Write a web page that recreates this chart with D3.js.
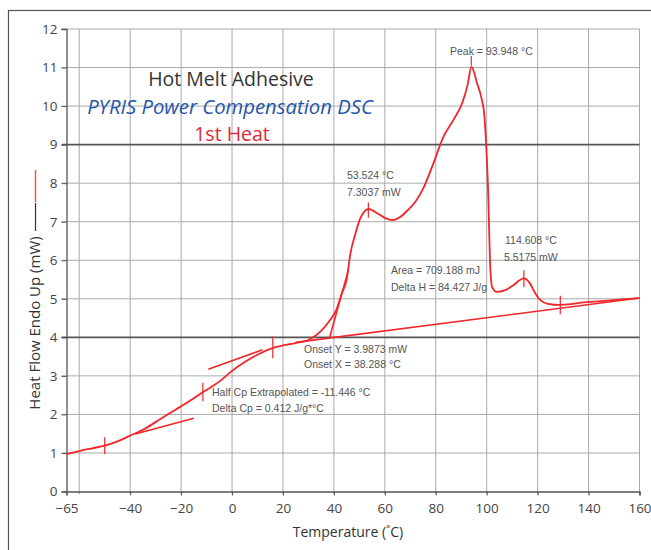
<!DOCTYPE html>
<html><head><meta charset="utf-8">
<script src="https://cdn.jsdelivr.net/npm/d3@7"></script>
<style>body{margin:0;background:#fff}svg{display:block}</style>
</head><body><svg id="c" width="651" height="550"></svg>
<script>
// ---- data ----
const temps = [-65,-60,-55,-50,-45,-40,-35,-30,-25,-20,-15,-11.4,-5,0,5,10,15,20,25,30,35,38.5,41,43,45,46.5,48.5,50.3,52,53.5,55,57,60,63,66,69,72,75,79,83,87,90.5,92.5,94,96.2,98.1,99,99.7,100.5,101.4,102.1,104,107,110,114.6,117,119,121,124,128.9,133,137,145,152,160];
const heatFlow = [0.97,1.05,1.12,1.19,1.30,1.45,1.60,1.80,2.01,2.21,2.42,2.58,2.85,3.13,3.36,3.55,3.70,3.79,3.85,3.93,4.17,4.45,4.72,5.12,5.50,6.18,6.70,7.08,7.27,7.33,7.30,7.22,7.10,7.04,7.12,7.30,7.52,7.85,8.50,9.20,9.65,10.10,10.55,11.02,10.60,10.16,9.81,9.12,7.91,5.83,5.31,5.18,5.22,5.33,5.53,5.40,5.15,4.97,4.87,4.84,4.86,4.90,4.94,4.98,5.02];
const baselineT = [25,160], baselineMW = [3.87,5.02];
const onsetTanT = [38.3,45.7], onsetTanMW = [3.99,5.75];
const lowTanT = [-38,-15], lowTanMW = [1.49,1.90];
const upTanT = [-9.3,12], upTanMW = [3.17,3.68];
const markerT = [-50,-11.446,16,53.524,114.608,128.9];
const markerMW = [1.19,2.58,3.74,7.30,5.52,4.84];
const markerLen = [0.22,0.24,0.28,0.2,0.22,0.24];
const xTicks = [-65,-40,-20,0,20,40,60,80,100,120,140,160];
const xGrid = [-60,-40,-20,0,20,40,60,80,100,120,140,160];
const yTicks = [0,1,2,3,4,5,6,7,8,9,10,11,12];
const heavyY = [4,9];

const svg = d3.select('#c');
const x = d3.scaleLinear().domain([-65,160]).range([66.5,639.5]);
const y = d3.scaleLinear().domain([0,12]).range([491.5,29]);
const red = '#f2262a';

// frame
svg.append('rect').attr('x',8.5).attr('y',10.5).attr('width',700).attr('height',700)
  .attr('fill','none').attr('stroke','#555').attr('stroke-width',1.2);

// grid
const g = svg.append('g');
g.selectAll('.vg').data(xGrid).join('line')
  .attr('x1',d=>x(d)).attr('x2',d=>x(d)).attr('y1',y(12)).attr('y2',y(0)+3)
  .attr('stroke','#aaa').attr('stroke-width',1);
g.selectAll('.hg').data(yTicks.filter(d=>d>0)).join('line')
  .attr('x1',x(-65)-5).attr('x2',x(160)).attr('y1',d=>y(d)).attr('y2',d=>y(d))
  .attr('stroke',d=>heavyY.includes(d)?'#555':'#aaa')
  .attr('stroke-width',d=>heavyY.includes(d)?1.8:1);

// axes
const xAxis = d3.axisBottom(x).tickValues(xTicks).tickSize(4).tickFormat(d3.format('d'));
const yAxis = d3.axisLeft(y).tickValues(yTicks).tickSize(5).tickFormat(d3.format('d'));
const gx = svg.append('g').attr('transform',`translate(0,${y(0)})`).call(xAxis);
const gy = svg.append('g').attr('transform',`translate(${x(-65)},0)`).call(yAxis);
[gx,gy].forEach(a=>{
  a.select('.domain').attr('stroke','#555').attr('stroke-width',1.3);
  a.selectAll('.tick line').attr('stroke','#555');
  a.selectAll('.tick text').attr('fill','#444').style('font-family','Open Sans').style('font-size','13.5px');
});
gx.selectAll('.tick text').attr('dy','1.05em');
gy.selectAll('.tick text').attr('dx','-1px');

// tangent / baseline lines
const line = d3.line().x(d=>x(d[0])).y(d=>y(d[1]));
const segs = [[baselineT,baselineMW],[onsetTanT,onsetTanMW],[lowTanT,lowTanMW],[upTanT,upTanMW]];
segs.forEach(([t,m])=>{
  svg.append('path').attr('d',line(t.map((v,i)=>[v,m[i]])))
    .attr('fill','none').attr('stroke',red).attr('stroke-width',1.6);
});

// main curve
svg.append('path').attr('d',line.curve(d3.curveMonotoneX)(temps.map((t,i)=>[t,heatFlow[i]])))
  .attr('fill','none').attr('stroke',red).attr('stroke-width',1.8);

// markers
markerT.forEach((t,i)=>{
  svg.append('line').attr('x1',x(t)).attr('x2',x(t))
    .attr('y1',y(markerMW[i]+markerLen[i])).attr('y2',y(markerMW[i]-markerLen[i]))
    .attr('stroke',red).attr('stroke-width',1.2);
});
// peak pointer
svg.append('line').attr('x1',x(93.948)).attr('x2',x(93.948)).attr('y1',y(11.3)).attr('y2',y(11.05))
  .attr('stroke',red).attr('stroke-width',1.2);

// annotations
const ann = [
  ['Peak = 93.948 °C',450,55],
  ['53.524 °C',347,179],['7.3037 mW',347,196],
  ['114.608 °C',505,244],['5.5175 mW',504,261],
  ['Area = 709.188 mJ',391,274],['Delta H = 84.427 J/g',391,291],
  ['Onset Y = 3.9873 mW',304,353],['Onset X = 38.288 °C',304,368],
  ['Half Cp Extrapolated = -11.446 °C',212,396],['Delta Cp = 0.412 J/g*°C',212,412]
];
svg.selectAll('.ann').data(ann).join('text')
  .attr('x',d=>d[1]).attr('y',d=>d[2]).text(d=>d[0])
  .attr('fill','#555').style('font-family','Liberation Sans Narrow, Liberation Sans, sans-serif').style('font-size','10.5px');

// titles
const tt = [['Hot Melt Adhesive',231,86,'#333','normal',19.5],['PYRIS Power Compensation DSC',230,114,'#2456a8','italic',20.3],['1st Heat',232,141,'#e0283c','normal',19.5]];
svg.selectAll('.tt').data(tt).join('text')
  .attr('x',d=>d[1]).attr('y',d=>d[2]).text(d=>d[0]).attr('text-anchor','middle')
  .attr('fill',d=>d[3]).style('font-style',d=>d[4])
  .style('font-family','Open Sans').style('font-size',d=>d[5]+'px');

// axis titles
svg.append('text').attr('transform','translate(40,323) rotate(-90)').attr('text-anchor','middle')
  .text('Heat Flow Endo Up (mW)').attr('fill','#333').style('font-family','Open Sans').style('font-size','15px');
svg.append('line').attr('x1',35.5).attr('x2',35.5).attr('y1',203).attr('y2',231).attr('stroke','#333').attr('stroke-width',1.2);
svg.append('line').attr('x1',35.5).attr('x2',35.5).attr('y1',170).attr('y2',202).attr('stroke','#f05a3c').attr('stroke-width',1.5);
svg.append('text').attr('x',348).attr('y',537).attr('text-anchor','middle')
  .text('Temperature (˚C)').attr('fill','#333').style('font-family','Open Sans').style('font-size','14px');
</script></body></html>
